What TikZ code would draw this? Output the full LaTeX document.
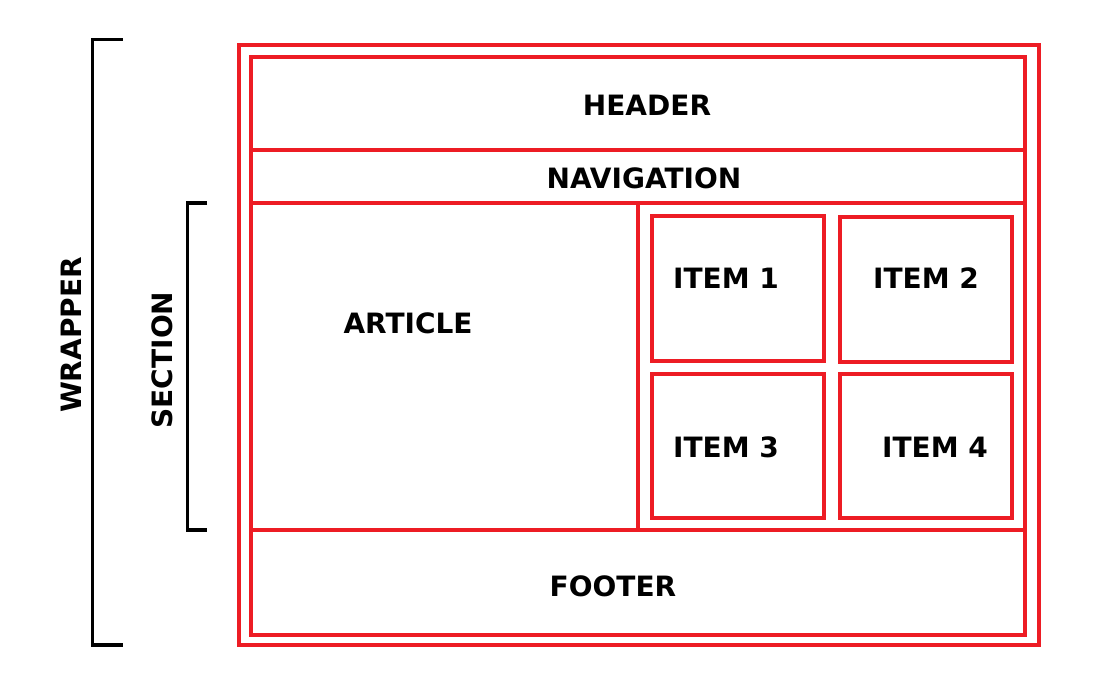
\documentclass[tikz,border=0pt]{standalone}
\usepackage{fontspec}
\setmainfont{DejaVu Sans}
\definecolor{boxred}{RGB}{237,28,36}
\begin{document}
\begin{tikzpicture}[x=1pt,y=-1pt,
  redbox/.style={draw=boxred,line width=4pt},
  bracket/.style={draw=black,line width=3.5pt,line join=miter},
  lbl/.style={font=\fontsize{28}{28}\selectfont\bfseries,inner sep=0pt}]
\useasboundingbox[fill=white] (0,0) rectangle (1095,690);
% brackets
\draw[bracket] (122.7,39.5) -- (92.5,39.5) -- (92.5,645) -- (122.7,645);
\draw[bracket] (207,203) -- (187.5,203) -- (187.5,530) -- (207,530);
% frames
\draw[redbox] (239,45) rectangle (1039,645);
\draw[redbox] (251,57) rectangle (1025,635);
\draw[redbox] (251,150) -- (1025,150);
\draw[redbox] (251,203) -- (1025,203);
\draw[redbox] (251,529.5) -- (1025,529.5);
\draw[redbox] (638,203) -- (638,529.5);
% items
\draw[redbox] (651.5,215.5) rectangle (823.5,361);
\draw[redbox] (840,216.5) rectangle (1012,362);
\draw[redbox] (651.5,373.5) rectangle (823.5,518);
\draw[redbox] (840,373.5) rectangle (1012,518);
% labels
\node[lbl] (header) at (647,105) {HEADER};
\node[lbl] (nav) at (644,178) {NAVIGATION};
\node[lbl] (article) at (408,323.3) {ARTICLE};
\node[lbl] (item1) at (726,278) {ITEM 1};
\node[lbl] (item2) at (926,278) {ITEM 2};
\node[lbl] (item3) at (726,447.5) {ITEM 3};
\node[lbl] (item4) at (935,447.5) {ITEM 4};
\node[lbl] (footer) at (613,586.7) {FOOTER};
\node[lbl,rotate=90] (wrapper) at (71,335) {WRAPPER};
\node[lbl,rotate=90] (section) at (162,360) {SECTION};
\end{tikzpicture}
\end{document}
